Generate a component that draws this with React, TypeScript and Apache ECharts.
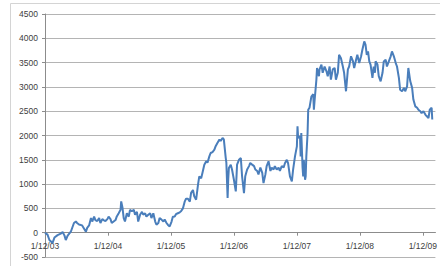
import React, { useEffect, useRef } from "react";
import * as echarts from "echarts";

// years since 1/12/03
const years = [
  0, 0.04, 0.07, 0.12, 0.15, 0.2, 0.25, 0.28, 0.31, 0.33, 0.36, 0.41, 0.46, 0.49, 0.51, 0.54, 0.59, 0.65, 0.67, 0.7,
  0.73, 0.75, 0.78, 0.8, 0.83, 0.86, 0.88, 0.91, 0.93, 0.96, 0.99, 1.01, 1.04,
  1.06, 1.09, 1.12, 1.14, 1.17, 1.2, 1.21, 1.23, 1.25, 1.27, 1.3, 1.33, 1.35, 1.38, 1.41, 1.43, 1.46, 1.48, 1.51, 1.54,
  1.56, 1.59, 1.61, 1.64, 1.67, 1.69, 1.72, 1.75, 1.77, 1.8, 1.82, 1.85, 1.88, 1.9, 1.93, 1.95, 1.98, 2.01, 2.03, 2.06,
  2.08, 2.11, 2.14, 2.16, 2.19, 2.22, 2.24, 2.27, 2.3, 2.32, 2.35, 2.37, 2.4, 2.43, 2.45, 2.48, 2.5, 2.53, 2.56, 2.58,
  2.61, 2.63, 2.66, 2.69, 2.71, 2.74, 2.77, 2.79, 2.82, 2.84, 2.87, 2.88, 2.9, 2.91, 2.92, 2.95, 2.97, 3.0, 3.03, 3.05,
  3.08, 3.11, 3.13, 3.16, 3.18, 3.21, 3.24, 3.26, 3.29, 3.32, 3.34, 3.37, 3.39, 3.42, 3.45, 3.47, 3.5, 3.52, 3.55, 3.58,
  3.6, 3.63, 3.65, 3.68, 3.71, 3.73, 3.76, 3.79, 3.81, 3.84, 3.86, 3.89, 3.92, 3.94, 3.97, 4.0, 4.01, 4.02, 4.05, 4.06,
  4.07, 4.09, 4.1, 4.11, 4.13, 4.14, 4.15, 4.17, 4.18, 4.2, 4.23, 4.26, 4.27, 4.28, 4.31, 4.32, 4.35, 4.36, 4.39, 4.41,
  4.44, 4.47, 4.49, 4.52, 4.54, 4.57, 4.6, 4.62, 4.65, 4.67, 4.7, 4.73, 4.75, 4.78, 4.81, 4.83, 4.86, 4.89, 4.91, 4.94,
  4.96, 4.99, 5.02, 5.04, 5.07, 5.09, 5.11, 5.13, 5.15, 5.17, 5.2, 5.22, 5.24, 5.25, 5.28, 5.3, 5.33, 5.36, 5.38, 5.41,
  5.43, 5.46, 5.49, 5.51, 5.54, 5.57, 5.59, 5.62, 5.64, 5.67, 5.7, 5.72, 5.75, 5.77, 5.8, 5.83, 5.85, 5.88, 5.91, 5.93,
  5.96, 5.98, 6.01, 6.04, 6.06, 6.09, 6.11, 6.14, 6.15,
];

const values = [
  0, -40, -150, -210, -100, -50, -20, 15, -60, -150, -60, 20, 200, 230, 200, 170, 150, 20, 100, 150,
  300, 230, 330, 260, 240, 300, 200, 280, 260, 240, 280, 330, 280,
  200, 230, 260, 335, 400, 470, 645, 520, 300, 230, 400, 330, 470, 440, 470, 370, 430, 230, 370, 430,
  370, 400, 330, 370, 400, 300, 400, 230, 165, 200, 300, 270, 230, 270, 200, 165, 130, 230, 330, 335,
  380, 400, 420, 440, 500, 645, 700, 700, 640, 820, 880, 750, 680, 990, 1160, 1120, 1230, 1400, 1470, 1440,
  1570, 1640, 1660, 1710, 1780, 1850, 1915, 1890, 1950, 1920, 1540, 1440, 715, 1100, 1330, 1400, 1300, 1090, 850, 1400,
  1500, 1535, 1160, 815, 1160, 1300, 1370, 1435, 1400, 1370, 1300, 1270, 1200, 1340, 1230, 1020, 1200, 1370, 1470, 1270,
  1340, 1300, 1370, 1300, 1340, 1270, 1370, 1340, 1430, 1500, 1430, 1160, 1055, 1300, 1570, 1775, 2190, 1950, 1980, 1570,
  2050, 1350, 1160, 1500, 1090, 1160, 1570, 2050, 2530, 2570, 2800, 2850, 2530, 2700, 3150, 3390, 3220, 3360, 3460, 3290,
  3420, 3320, 3220, 3420, 3150, 3360, 3390, 3150, 3290, 3660, 3590, 3420, 3290, 2910, 3360, 3420, 3630, 3530, 3390, 3560,
  3660, 3490, 3630, 3765, 3935, 3870, 3660, 3730, 3525, 3460, 3185, 3420, 3290, 3525, 3460, 3220, 3115, 3290, 3525, 3560,
  3420, 3525, 3630, 3730, 3630, 3490, 3420, 3185, 2940, 2910, 2980, 2910, 3010, 3390, 3120, 2980, 2740, 2600, 2570, 2530,
  2500, 2460, 2500, 2430, 2400, 2360, 2530, 2570, 2330,
];

const tickYears = [0, 1, 2, 3, 4, 5, 6];
const tickLabels = ["1/12/03", "1/12/04", "1/12/05", "1/12/06", "1/12/07", "1/12/08", "1/12/09"];

export default function App() {
  const ref = useRef<HTMLDivElement>(null);
  useEffect(() => {
    if (!ref.current) return;
    const chart = echarts.init(ref.current, undefined, { renderer: "svg" });
    const font = "Liberation Sans";
    const yMin = -500;
    const yMax = 4500;
    const gridTop = 14;
    const gridHeight = 243;
    chart.setOption({
      animation: false,
      backgroundColor: "#ffffff",
      grid: { left: 45, right: 0, top: gridTop, height: gridHeight, containLabel: false },
      graphic: [
        {
          type: "rect",
          shape: { x: 10.5, y: 3.5, width: 440, height: 280 },
          style: { fill: "none", stroke: "#d4d4d4", lineWidth: 1 },
          silent: true,
          z: -1,
        },
      ],
      xAxis: {
        type: "value",
        min: 0,
        max: 6.2,
        interval: 1,
        offset: -(gridHeight * (0 - yMin)) / (yMax - yMin),
        axisLine: { onZero: false, lineStyle: { color: "#8c8c8c", width: 1 } },
        axisTick: { show: true, length: 3, lineStyle: { color: "#8c8c8c" }, customValues: tickYears },
        axisLabel: {
          customValues: tickYears,
          formatter: (v: number) => {
            const i = tickYears.indexOf(Math.round(v));
            return i >= 0 && Math.abs(v - Math.round(v)) < 1e-6 ? tickLabels[i] : "";
          },
          fontFamily: font,
          fontSize: 8.5,
          color: "#404040",
          margin: 9,
        },
        splitLine: { show: false },
      },
      yAxis: {
        type: "value",
        min: yMin,
        max: yMax,
        interval: 500,
        axisLine: { show: true, onZero: false, lineStyle: { color: "#8c8c8c", width: 1 } },
        axisTick: { show: true, length: 3, lineStyle: { color: "#8c8c8c" } },
        axisLabel: {
          fontFamily: font,
          fontSize: 8.5,
          color: "#404040",
          margin: 7,
          formatter: (v: number) => String(v),
        },
        splitLine: { show: true, lineStyle: { color: "#b4b4b4", width: 1 } },
      },
      series: [
        {
          type: "line",
          data: years.map((y, i) => [y, values[i]]),
          showSymbol: false,
          symbol: "none",
          lineStyle: { color: "#4a7ebb", width: 2 },
          itemStyle: { color: "#4a7ebb" },
        },
      ],
    });
    return () => chart.dispose();
  }, []);
  return (
    <div
      ref={ref}
      style={{ position: "fixed", left: 0, top: 0, width: 440, height: 266, background: "#fff" }}
    />
  );
}
